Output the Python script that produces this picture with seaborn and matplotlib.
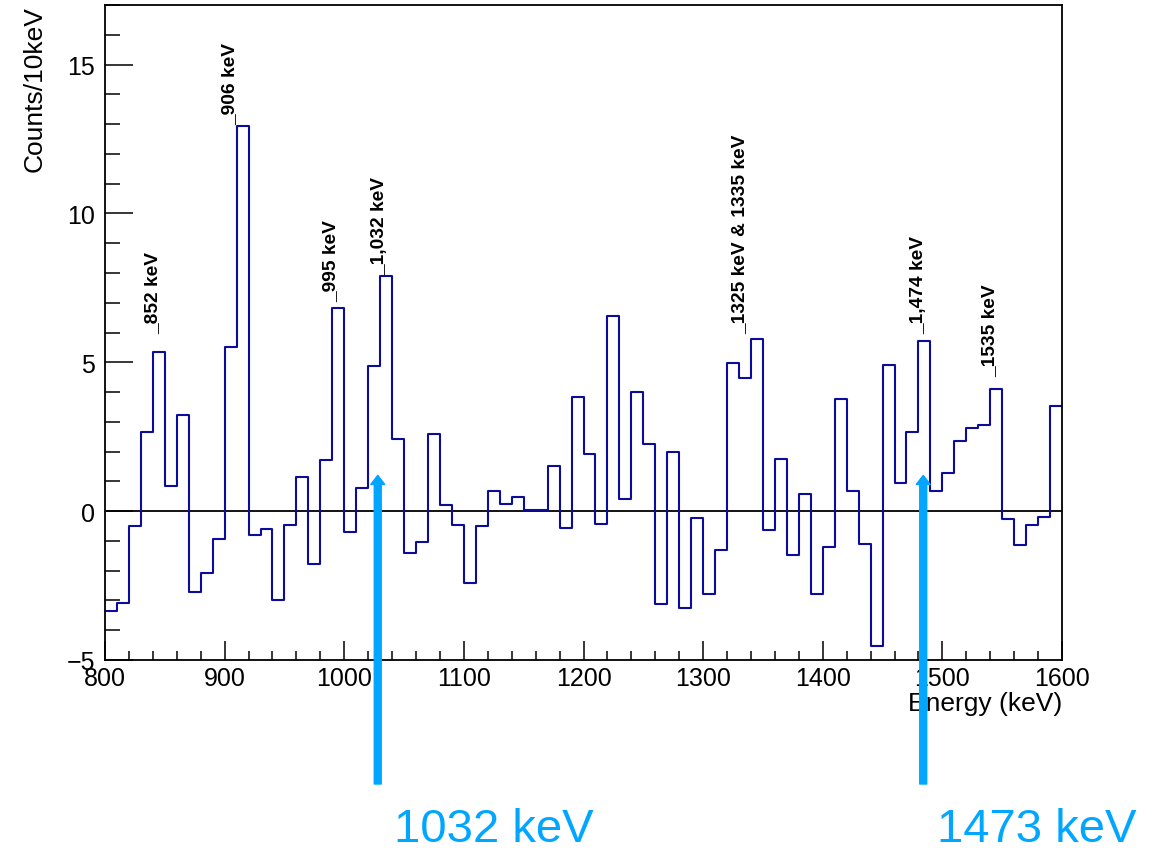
import numpy as np
import pandas as pd
import matplotlib
matplotlib.use("Agg")
import matplotlib.pyplot as plt
from matplotlib.ticker import MultipleLocator
import seaborn as sns

# ---------------- data ----------------
bin_low = list(range(800, 1600, 10))      # lower bin edges (keV), 10 keV bins
counts = [
    -3.35, -3.10, -0.49, 2.66, 5.35, 0.84, 3.22, -2.73, -2.08, -0.92,
    5.52, 12.92, -0.80, -0.61, -2.98, -0.45, 1.15, -1.78, 1.71, 6.82,
    -0.69, 0.77, 4.88, 7.91, 2.43, -1.41, -1.02, 2.58, 0.20, -0.45,
    -2.43, -0.49, 0.69, 0.25, 0.48, 0.04, 0.03, 1.53, -0.55, 3.84,
    1.92, -0.44, 6.56, 0.40, 4.01, 2.26, -3.12, 1.99, -3.24, -0.22,
    -2.78, -1.29, 4.98, 4.46, 5.78, -0.63, 1.75, -1.46, 0.56, -2.78,
    -1.20, 3.75, 0.69, -1.11, -4.54, 4.91, 0.96, 2.65, 5.72, 0.66,
    1.29, 2.35, 2.80, 2.88, 4.09, -0.26, -1.15, -0.48, -0.20, 3.53,
]
peak_labels = ["_852 keV", "_906 keV", "_995 keV", "_1,032 keV",
               "_1325 keV & 1335 keV", "_1,474 keV", "_1535 keV"]
peak_x = [840, 904.5, 989, 1030, 1331, 1480, 1540]
peak_y = [6.0, 13.0, 7.05, 7.95, 6.0, 6.0, 4.53]

arrow_labels = ["1032 keV", "1473 keV"]
arrow_x = [1028, 1484]
arrow_tip_y = [1.2, 1.2]
arrow_text_x = [494, 1037]   # pixel centres of the bottom labels

x_ticks = [800, 900, 1000, 1100, 1200, 1300, 1400, 1500, 1600]
y_ticks = [-5, 0, 5, 10, 15]

# ---------------- style ----------------
sns.set_style("white")
plt.rcParams["font.family"] = ["Liberation Sans", "DejaVu Sans"]
plt.rcParams["axes.unicode_minus"] = True
plt.rcParams["text.color"] = "black"
plt.rcParams["axes.labelcolor"] = "black"
plt.rcParams["xtick.color"] = "black"
plt.rcParams["ytick.color"] = "black"

W, H = 1163, 853
fig = plt.figure(figsize=(W / 100, H / 100), dpi=100)
ax_l, ax_r, ax_t, ax_b = 105, 1062, 6, 661
ax = fig.add_axes([ax_l / W, 1 - ax_b / H, (ax_r - ax_l) / W, (ax_b - ax_t) / H])

df = pd.DataFrame({"energy": np.array(bin_low) + 5.0, "counts": counts})
edges = list(range(800, 1610, 10))
sns.histplot(data=df, x="energy", weights="counts", bins=edges,
             element="step", fill=False, color="#0b0b9c", linewidth=1.5, ax=ax)

ax.axhline(0, color="black", lw=1.3, zorder=1)

ax.set_xlim(800, 1600)
ax.set_ylim(-5, 17)
ax.set_xticks(x_ticks)
ax.set_yticks(y_ticks)
ax.xaxis.set_minor_locator(MultipleLocator(20))
ax.yaxis.set_minor_locator(MultipleLocator(1))
ax.tick_params(axis="x", which="major", direction="in", length=13.7, width=1.1,
               labelsize=18, pad=4, bottom=True, top=False, colors="black")
ax.tick_params(axis="x", which="minor", direction="in", length=6.5, width=1.1,
               bottom=True, top=False, colors="black")
ax.tick_params(axis="y", which="major", direction="in", length=20, width=1.1,
               labelsize=18, pad=7, left=True, right=False, colors="black")
ax.tick_params(axis="y", which="minor", direction="in", length=10.8, width=1.1,
               left=True, right=False, colors="black")
for s in ax.spines.values():
    s.set_color("black")
    s.set_linewidth(1.3)
    s.set_visible(True)

ax.set_xlabel("Energy (keV)", fontsize=19, loc="right", color="black")
ax.set_ylabel("Counts/10keV", fontsize=19, loc="top", color="black")
ax.xaxis.set_label_coords(1.0, -0.047)
ax.yaxis.set_label_coords(-0.061, 1.0)

for lab, x, y in zip(peak_labels, peak_x, peak_y):
    ax.text(x, y, lab, rotation=90, ha="center", va="bottom",
            fontsize=13.8, fontweight="bold", color="black")

blue = "#00a6ff"
for lab, x, yt, tx in zip(arrow_labels, arrow_x, arrow_tip_y, arrow_text_x):
    ax.annotate("", xy=(x, yt), xycoords="data",
                xytext=(x, 1 - 785 / H), textcoords=("data", "figure fraction"),
                arrowprops=dict(width=5, headwidth=10, headlength=6.5,
                                color=blue, shrink=0),
                annotation_clip=False)
    fig.text(tx / W, 1 - 830 / H, lab, ha="center", va="center",
             fontsize=34, color=blue)

fig.savefig("out.png", dpi=100)
